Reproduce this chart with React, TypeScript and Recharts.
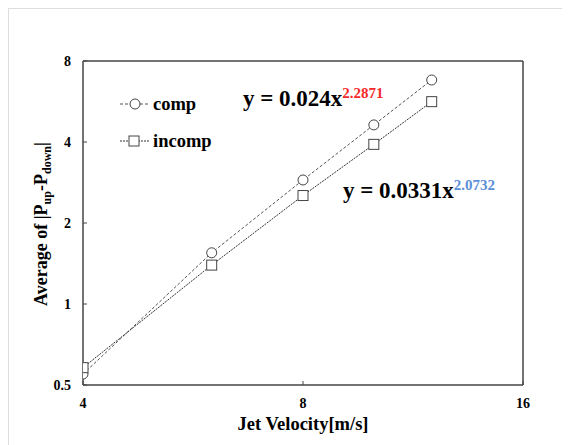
import React from 'react';
import { LineChart, Line, XAxis, YAxis, ReferenceLine } from 'recharts';

const velocities = [4, 6, 8, 10, 12];
const compValues = [0.549, 1.55, 2.89, 4.63, 6.8];
const incompValues = [0.58, 1.395, 2.53, 3.92, 5.65];
const xTicks = [4, 8, 16];
const yTicks = [0.5, 1, 2, 4, 8];
const seriesNames = ['comp', 'incomp'];

const data = velocities.map((v, i) => ({ x: v, comp: compValues[i], incomp: incompValues[i] }));

const FONT = '"Liberation Serif", "Times New Roman", serif';
const AXIS = '#444';

const CircleDot = (props: any) => {
    const { cx, cy, index } = props;
    if (cx == null || cy == null) return null;
    return <circle key={`c-${index}`} cx={cx} cy={cy} r={5} fill="#fff" stroke="#444" strokeWidth={1} />;
};

const SquareDot = (props: any) => {
    const { cx, cy, index } = props;
    if (cx == null || cy == null) return null;
    return <rect key={`s-${index}`} x={cx - 5} y={cy - 5} width={10} height={10} fill="#fff" stroke="#444" strokeWidth={1} />;
};

const YTick = (props: any) => {
    const { x, y, payload } = props;
    const axisX = x + 12;
    return (
        <g>
            <line x1={axisX} x2={axisX + 4} y1={y} y2={y} stroke={AXIS} />
            <text x={x} y={y} dy="0.35em" textAnchor="end" fontFamily={FONT} fontWeight="bold" fontSize={14} fill="#000">
                {payload.value}
            </text>
        </g>
    );
};

const XTick = (props: any) => {
    const { x, y, payload } = props;
    const axisY = y - 18;
    return (
        <g>
            <line x1={x} x2={x} y1={axisY} y2={axisY - 4} stroke={AXIS} />
            <text x={x} y={y} dy="0.35em" textAnchor="middle" fontFamily={FONT} fontWeight="bold" fontSize={14} fill="#000">
                {payload.value}
            </text>
        </g>
    );
};

export default function App() {
    return (
        <div style={{ position: 'relative', width: 562, height: 437, overflow: 'hidden' }}>
            <div style={{ position: 'absolute', left: 0, top: 0, width: 700, height: 600, borderLeft: '1px solid #dedede', borderTop: '1px solid #dedede' }} />
            <LineChart width={562} height={437} data={data} margin={{ top: 53, right: 47, bottom: 20, left: 15 }}>
                <XAxis
                    dataKey="x"
                    type="number"
                    scale="log"
                    domain={[4, 16]}
                    ticks={xTicks}
                    allowDataOverflow
                    height={40}
                    tickSize={0}
                    tickMargin={18}
                    tickLine={false}
                    axisLine={{ stroke: AXIS, strokeWidth: 1.5 }}
                    tick={<XTick />}
                />
                <YAxis
                    type="number"
                    scale="log"
                    domain={[0.5, 8]}
                    ticks={yTicks}
                    allowDataOverflow
                    width={60}
                    tickSize={0}
                    tickMargin={12}
                    tickLine={false}
                    axisLine={{ stroke: AXIS, strokeWidth: 1.5 }}
                    tick={<YTick />}
                />
                <ReferenceLine y={8} stroke={AXIS} strokeWidth={1.5} />
                <ReferenceLine x={16} stroke={AXIS} strokeWidth={1.5} />
                <Line
                    dataKey="comp"
                    type="linear"
                    stroke="#555"
                    strokeWidth={1}
                    strokeDasharray="3 2"
                    dot={CircleDot}
                    isAnimationActive={false}
                />
                <Line
                    dataKey="incomp"
                    type="linear"
                    stroke="#333"
                    strokeWidth={1}
                    strokeDasharray="2 1"
                    dot={SquareDot}
                    isAnimationActive={false}
                />
            </LineChart>
            <svg width={562} height={437} style={{ position: 'absolute', left: 0, top: 0, pointerEvents: 'none' }}>
                <g fontFamily={FONT} fontWeight="bold" fill="#000">
                    {/* legend */}
                    <line x1={112} x2={141} y1={96} y2={96} stroke="#555" strokeDasharray="3 2" />
                    <circle cx={127} cy={96} r={5} fill="#fff" stroke="#444" />
                    <text x={145} y={96} dy="0.35em" fontSize={18.5}>{seriesNames[0]}</text>
                    <line x1={112} x2={142} y1={133} y2={133} stroke="#333" strokeDasharray="2 1" />
                    <rect x={121} y={128} width={10} height={10} fill="#fff" stroke="#444" />
                    <text x={145} y={133} dy="0.35em" fontSize={18.5}>{seriesNames[1]}</text>

                    {/* fitted equations */}
                    <text x={235} y={98} fontSize={23}>
                        y = 0.024x
                        <tspan fill="#f52a2a" fontSize={15} dy={-8}>2.2871</tspan>
                    </text>
                    <text x={335} y={190} fontSize={23}>
                        y = 0.0331x
                        <tspan fill="#5b8fd6" fontSize={15} dy={-8}>2.0732</tspan>
                    </text>

                    {/* axis titles */}
                    <text x={39} y={216} fontSize={18} textAnchor="middle" transform="rotate(-90, 39, 216)">
                        Average of |P<tspan fontSize={12} dy={4}>up</tspan>
                        <tspan dy={-4}>-P</tspan>
                        <tspan fontSize={12} dy={4}>down</tspan>
                        <tspan dy={-4}>|</tspan>
                    </text>
                    <text x={295} y={422} fontSize={18.5} textAnchor="middle">Jet Velocity[m/s]</text>
                </g>
            </svg>
        </div>
    );
}
